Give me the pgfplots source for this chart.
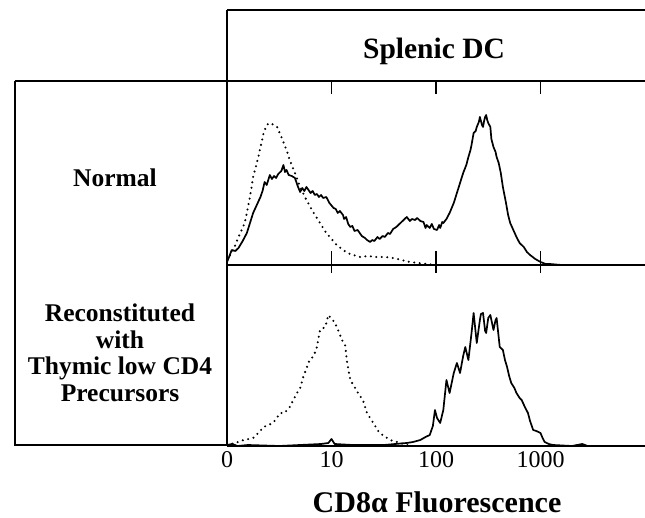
\documentclass[border=0pt]{standalone}
\usepackage{pgfplots}
\pgfplotsset{compat=1.18}
\usepackage{pgfplotstable}
\usepackage{fontspec}
\setmainfont{Liberation Serif}

\pgfplotstableread{
d h
0 3
0.02 8
0.045 15
0.08 14
0.11 17
0.15 24
0.19 32
0.25 52
0.32 68
0.34 74
0.36 83
0.38 80
0.41 90
0.43 86
0.45 89
0.47 87
0.49 91
0.52 94
0.54 100
0.555 93
0.57 95
0.59 90
0.62 89
0.65 87
0.68 78
0.70 73
0.72 77
0.74 74
0.76 78
0.78 75
0.80 72
0.82 74
0.84 70
0.86 71
0.88 68
0.90 70
0.92 67
0.95 68
0.98 62
1.02 57
1.04 56
1.06 52
1.08 54
1.11 50
1.12 46
1.14 48
1.16 41
1.18 38
1.20 39
1.22 34
1.25 35
1.27 32
1.29 29
1.32 27
1.34 25
1.37 23
1.39 25
1.41 24
1.44 28
1.46 26
1.49 29
1.51 28
1.54 32
1.56 31
1.59 36
1.62 38
1.65 41
1.67 43
1.70 46
1.72 48
1.75 44
1.77 46
1.80 45
1.82 47
1.85 44
1.88 43
1.90 37
1.91 40
1.94 37
1.96 41
1.98 36
2.01 35
2.03 40
2.04 37
2.06 43
2.07 42
2.10 46
2.13 52
2.15 57
2.17 62
2.20 72
2.23 82
2.26 92
2.29 100
2.31 108
2.33 115
2.34 120
2.36 132
2.38 134
2.39 138
2.41 143
2.42 148
2.44 140
2.45 138
2.46 144
2.47 148
2.48 150
2.49 145
2.50 142
2.52 138
2.53 126
2.55 118
2.57 113
2.58 108
2.60 102
2.62 92
2.64 78
2.67 62
2.69 50
2.71 42
2.74 35
2.77 28
2.80 22
2.84 18
2.87 13
2.90 10
2.95 6
3.00 3
3.05 1
3.09 1
3.2 0
4.0 0
}\normalsolid

\pgfplotstableread{
d h
0 5
0.06 15
0.11 28
0.17 42
0.22 68
0.25 88
0.30 108
0.35 132
0.38 140
0.41 142
0.45 140
0.48 138
0.52 128
0.57 115
0.60 105
0.65 92
0.70 78
0.76 65
0.83 52
0.89 42
0.95 32
1.05 20
1.15 12
1.27 8
1.35 9
1.43 8
1.51 8
1.59 7
1.67 5
1.75 3
1.91 1
2.0 0
}\normaldotted

\pgfplotstableread{
d h
0 1
0.05 2
0.1 0
0.2 1
0.5 0
0.7 1
0.9 2
0.97 3
1.0 7
1.03 2
1.2 1
1.5 1
1.72 3
1.78 4
1.85 6
1.90 9
1.94 11
1.97 20
1.99 36
2.01 28
2.04 23
2.07 36
2.10 66
2.13 53
2.17 73
2.20 83
2.23 73
2.26 90
2.28 99
2.31 86
2.34 113
2.36 133
2.39 103
2.42 126
2.43 132
2.45 133
2.47 115
2.48 113
2.50 128
2.52 131
2.55 116
2.57 126
2.58 128
2.61 99
2.64 96
2.66 86
2.68 79
2.70 70
2.72 63
2.75 58
2.77 53
2.80 48
2.82 46
2.85 39
2.88 33
2.90 25
2.93 16
2.96 15
3.00 13
3.02 8
3.04 4
3.08 2
3.12 1
3.3 0
3.4 2
3.45 0
4.0 0
}\recsolid

\pgfplotstableread{
d h
0 1
0.08 3
0.16 6
0.25 8
0.30 13
0.35 19
0.44 23
0.51 33
0.55 33
0.60 39
0.67 53
0.70 58
0.73 69
0.79 86
0.83 90
0.86 99
0.89 116
0.94 119
0.97 131
1.00 127
1.03 124
1.07 114
1.10 106
1.13 101
1.15 83
1.18 66
1.22 59
1.26 52
1.30 46
1.34 33
1.40 23
1.46 13
1.56 6
1.66 3
1.75 0
}\recdotted

\begin{document}
\begin{tikzpicture}[line width=1.4pt]
\useasboundingbox (0pt,0pt) rectangle (645pt,518pt);
\pgfplotsset{
  histo/.style={
    scale only axis, width=418pt,
    xmin=0, xmax=4, ymin=0,
    axis line style={draw=none},
    ytick=\empty,
    tick style={black, line width=1.4pt},
    clip=false,
  },
  solidc/.style={black, line width=1.7pt, line join=round},
  dotc/.style={black, line width=2.3pt, line cap=round, dash pattern=on 0pt off 5.5pt},
}
% top row: Normal
\begin{axis}[histo, at={(227pt,253pt)}, anchor=south west, height=185pt, ymax=185,
  xtick={1,2,3}, xticklabels={}, xtick pos=both, xtick align=inside, major tick length=14pt]
\addplot[solidc] table[x=d,y=h] {\normalsolid};
\addplot[dotc] table[x=d,y=h] {\normaldotted};
\end{axis}
% bottom row: Reconstituted
\begin{axis}[histo, at={(227pt,72pt)}, anchor=south west, height=181pt, ymax=181,
  xtick={0,1,2,3}, xticklabels={0,10,100,1000}, xtick pos=right, xticklabel pos=left,
  xtick align=inside, major tick length=8pt,
  xticklabel style={font=\fontsize{24}{26}\selectfont, yshift=-2pt},
  /pgf/number format/assume math mode=true]
\addplot[solidc] table[x=d,y=h] {\recsolid};
\addplot[dotc] table[x=d,y=h] {\recdotted};
\end{axis}
% frames
\draw (227pt,508pt) -- (645pt,508pt);
\draw (227pt,508pt) -- (227pt,72pt);
\draw (15pt,437pt) -- (645pt,437pt);
\draw (15pt,437pt) -- (15pt,73pt) -- (227pt,73pt);
\draw (227pt,253pt) -- (645pt,253pt);
\draw (227pt,72pt) -- (645pt,72pt);
% texts
\node[anchor=base, inner sep=0pt] at (434pt,459pt) {\fontsize{29.5}{32}\selectfont\bfseries Splenic DC};
\node[inner sep=0pt] at (115pt,340pt) {\fontsize{25.5}{27}\selectfont\bfseries Normal};
\node[inner sep=0pt, align=center, font=\fontsize{25.5}{26.5}\selectfont\bfseries] at (120pt,165pt)
  {Reconstituted\\with\\Thymic low CD4\\Precursors};
\node[anchor=base, inner sep=0pt] at (437pt,5pt) {\fontsize{30}{32}\selectfont\bfseries CD8α Fluorescence};
\end{tikzpicture}
\end{document}
